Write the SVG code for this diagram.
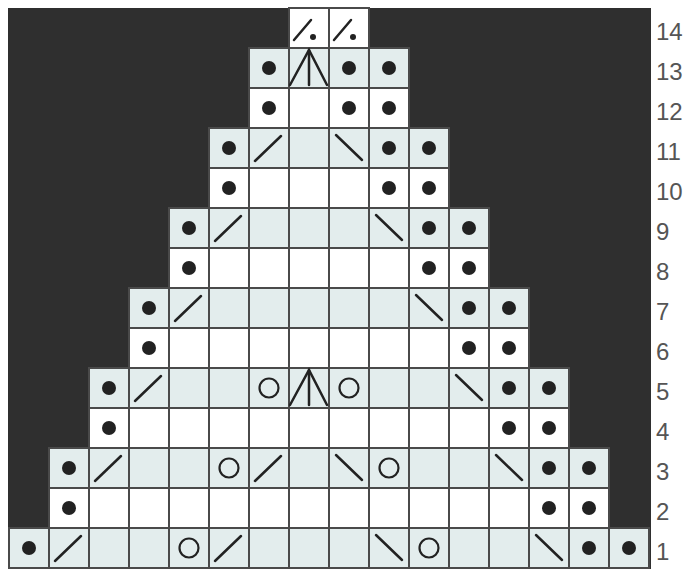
<svg xmlns="http://www.w3.org/2000/svg" xmlns:xlink="http://www.w3.org/1999/xlink" width="687" height="571" viewBox="0 0 687 571">
<style>
.lt{fill:#e3eded;stroke:#4a4a4a;stroke-width:2}
.wh{fill:#ffffff;stroke:#4a4a4a;stroke-width:2}
.vl{fill:none;stroke:#4a4a4a;stroke-width:2}
.ink{stroke:#222;stroke-width:2.5;stroke-linecap:round;fill:none}
.lbl{font-family:"Liberation Sans",Arial,sans-serif;font-size:24px;fill:#555}
</style>
<defs>
<circle id="dot" cx="20" cy="20" r="7" fill="#222"/>
<line id="k2" x1="6" y1="33" x2="32" y2="8" class="ink"/>
<line id="ssk" x1="7" y1="7" x2="33" y2="32" class="ink"/>
<circle id="yo" cx="20" cy="20" r="9.5" fill="none" stroke="#222" stroke-width="2.2"/>
<g id="cdd" class="ink" stroke-width="2"><polyline points="1,37 20,2 38,37"/><line x1="20" y1="2" x2="20" y2="37"/></g>
<g id="t14"><line x1="5" y1="32" x2="22" y2="12" class="ink" stroke-width="2"/><circle cx="24" cy="29" r="3" fill="#222"/></g>
</defs>
<rect x="8" y="8" width="643" height="561" fill="#2f2f2f"/>
<g id="grid">
<rect class="lt" x="9" y="528" width="640" height="40"/>
<path class="vl" d="M49 528v40M89 528v40M129 528v40M169 528v40M209 528v40M249 528v40M289 528v40M329 528v40M369 528v40M409 528v40M449 528v40M489 528v40M529 528v40M569 528v40M609 528v40"/>
<rect class="wh" x="49" y="488" width="560" height="40"/>
<path class="vl" d="M89 488v40M129 488v40M169 488v40M209 488v40M249 488v40M289 488v40M329 488v40M369 488v40M409 488v40M449 488v40M489 488v40M529 488v40M569 488v40"/>
<rect class="lt" x="49" y="448" width="560" height="40"/>
<path class="vl" d="M89 448v40M129 448v40M169 448v40M209 448v40M249 448v40M289 448v40M329 448v40M369 448v40M409 448v40M449 448v40M489 448v40M529 448v40M569 448v40"/>
<rect class="wh" x="89" y="408" width="480" height="40"/>
<path class="vl" d="M129 408v40M169 408v40M209 408v40M249 408v40M289 408v40M329 408v40M369 408v40M409 408v40M449 408v40M489 408v40M529 408v40"/>
<rect class="lt" x="89" y="368" width="480" height="40"/>
<path class="vl" d="M129 368v40M169 368v40M209 368v40M249 368v40M289 368v40M329 368v40M369 368v40M409 368v40M449 368v40M489 368v40M529 368v40"/>
<rect class="wh" x="129" y="328" width="400" height="40"/>
<path class="vl" d="M169 328v40M209 328v40M249 328v40M289 328v40M329 328v40M369 328v40M409 328v40M449 328v40M489 328v40"/>
<rect class="lt" x="129" y="288" width="400" height="40"/>
<path class="vl" d="M169 288v40M209 288v40M249 288v40M289 288v40M329 288v40M369 288v40M409 288v40M449 288v40M489 288v40"/>
<rect class="wh" x="169" y="248" width="320" height="40"/>
<path class="vl" d="M209 248v40M249 248v40M289 248v40M329 248v40M369 248v40M409 248v40M449 248v40"/>
<rect class="lt" x="169" y="208" width="320" height="40"/>
<path class="vl" d="M209 208v40M249 208v40M289 208v40M329 208v40M369 208v40M409 208v40M449 208v40"/>
<rect class="wh" x="209" y="168" width="240" height="40"/>
<path class="vl" d="M249 168v40M289 168v40M329 168v40M369 168v40M409 168v40"/>
<rect class="lt" x="209" y="128" width="240" height="40"/>
<path class="vl" d="M249 128v40M289 128v40M329 128v40M369 128v40M409 128v40"/>
<rect class="wh" x="249" y="88" width="160" height="40"/>
<path class="vl" d="M289 88v40M329 88v40M369 88v40"/>
<rect class="lt" x="249" y="48" width="160" height="40"/>
<path class="vl" d="M289 48v40M329 48v40M369 48v40"/>
<rect class="wh" x="289" y="8" width="80" height="40"/>
<path class="vl" d="M329 8v40"/>
</g>
<g id="symbols">
<g id="row1">
<use href="#dot" x="9" y="528"/><use href="#k2" x="49" y="528"/><use href="#yo" x="169" y="528"/><use href="#k2" x="209" y="528"/><use href="#ssk" x="369" y="528"/><use href="#yo" x="409" y="528"/><use href="#ssk" x="529" y="528"/><use href="#dot" x="569" y="528"/><use href="#dot" x="609" y="528"/>
</g>
<g id="row2"><use href="#dot" x="49" y="488"/><use href="#dot" x="529" y="488"/><use href="#dot" x="569" y="488"/></g>
<g id="row3">
<use href="#dot" x="49" y="448"/><use href="#k2" x="89" y="448"/><use href="#yo" x="209" y="448"/><use href="#k2" x="249" y="448"/><use href="#ssk" x="329" y="448"/><use href="#yo" x="369" y="448"/><use href="#ssk" x="489" y="448"/><use href="#dot" x="529" y="448"/><use href="#dot" x="569" y="448"/>
</g>
<g id="row4"><use href="#dot" x="89" y="408"/><use href="#dot" x="489" y="408"/><use href="#dot" x="529" y="408"/></g>
<g id="row5">
<use href="#dot" x="89" y="368"/><use href="#k2" x="129" y="368"/><use href="#yo" x="249" y="368"/><use href="#cdd" x="289" y="368"/><use href="#yo" x="329" y="368"/><use href="#ssk" x="449" y="368"/><use href="#dot" x="489" y="368"/><use href="#dot" x="529" y="368"/>
</g>
<g id="row6"><use href="#dot" x="129" y="328"/><use href="#dot" x="449" y="328"/><use href="#dot" x="489" y="328"/></g>
<g id="row7"><use href="#dot" x="129" y="288"/><use href="#k2" x="169" y="288"/><use href="#ssk" x="409" y="288"/><use href="#dot" x="449" y="288"/><use href="#dot" x="489" y="288"/></g>
<g id="row8"><use href="#dot" x="169" y="248"/><use href="#dot" x="409" y="248"/><use href="#dot" x="449" y="248"/></g>
<g id="row9"><use href="#dot" x="169" y="208"/><use href="#k2" x="209" y="208"/><use href="#ssk" x="369" y="208"/><use href="#dot" x="409" y="208"/><use href="#dot" x="449" y="208"/></g>
<g id="row10"><use href="#dot" x="209" y="168"/><use href="#dot" x="369" y="168"/><use href="#dot" x="409" y="168"/></g>
<g id="row11"><use href="#dot" x="209" y="128"/><use href="#k2" x="249" y="128"/><use href="#ssk" x="329" y="128"/><use href="#dot" x="369" y="128"/><use href="#dot" x="409" y="128"/></g>
<g id="row12"><use href="#dot" x="249" y="88"/><use href="#dot" x="329" y="88"/><use href="#dot" x="369" y="88"/></g>
<g id="row13"><use href="#dot" x="249" y="48"/><use href="#cdd" x="289" y="48"/><use href="#dot" x="329" y="48"/><use href="#dot" x="369" y="48"/></g>
<g id="row14"><use href="#t14" x="289" y="8"/><use href="#t14" x="329" y="8"/></g>
</g>
<g id="labels" class="lbl">
<text x="656" y="560">1</text>
<text x="656" y="520">2</text>
<text x="656" y="480">3</text>
<text x="656" y="440">4</text>
<text x="656" y="400">5</text>
<text x="656" y="360">6</text>
<text x="656" y="320">7</text>
<text x="656" y="280">8</text>
<text x="656" y="240">9</text>
<text x="656" y="200">10</text>
<text x="656" y="160">11</text>
<text x="656" y="120">12</text>
<text x="656" y="80">13</text>
<text x="656" y="40">14</text>
</g>
</svg>
